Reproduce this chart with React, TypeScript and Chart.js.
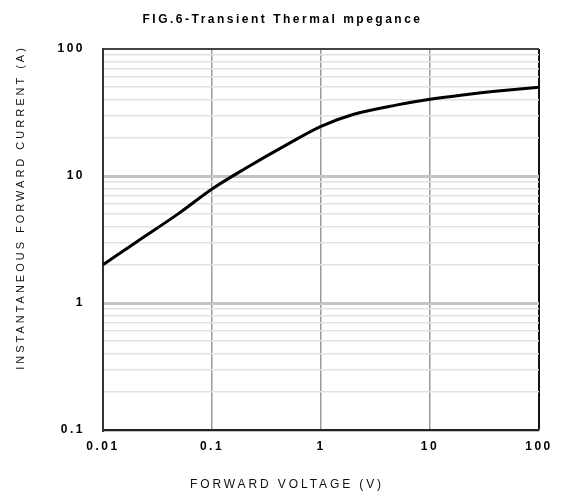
import React, { useEffect, useRef } from "react";
import { Chart, registerables } from "chart.js";

Chart.register(...registerables);

const chartTitle = "FIG.6-Transient Thermal mpegance";
const xTitle = "FORWARD VOLTAGE (V)";
const yTitle = "INSTANTANEOUS FORWARD CURRENT (A)";

const xTicks = [0.01, 0.1, 1, 10, 100];
const yTicks = [0.1, 1, 10, 100];
const minorMultipliers = [2, 3, 4, 5, 6, 7, 8, 9];

const voltage = [0.01, 0.02, 0.05, 0.1, 0.2, 0.5, 1, 2, 5, 10, 20, 50, 100];
const current = [2, 3.0, 5.1, 7.9, 11.4, 17.9, 24.6, 30.6, 36.3, 40.2, 43.5, 47.3, 50];

const FONT = "'Liberation Sans', Arial, Helvetica, sans-serif";

const spacingPlugin = {
  id: "letterSpacing",
  beforeUpdate(chart: any) {
    chart.ctx.letterSpacing = "2.5px";
  },
  beforeDraw(chart: any) {
    chart.ctx.letterSpacing = "2.5px";
  },
};

const titlesPlugin = {
  id: "titles",
  afterDraw(chart: any) {
    const ctx = chart.ctx;
    const area = chart.chartArea;
    ctx.save();
    ctx.fillStyle = "#000";
    ctx.textAlign = "center";
    ctx.textBaseline = "middle";

    // chart title
    ctx.font = `bold 12px ${FONT}`;
    ctx.letterSpacing = "2.5px";
    ctx.fillText(chartTitle, area.left + 179.5, 20);

    // x axis title
    ctx.fillStyle = "#111";
    ctx.font = `12px ${FONT}`;
    ctx.letterSpacing = "2.9px";
    ctx.fillText(xTitle, area.left + 184, area.bottom + 55);

    // y axis title
    ctx.font = `11px ${FONT}`;
    ctx.letterSpacing = "3px";
    ctx.translate(21, area.top + 160);
    ctx.rotate(-Math.PI / 2);
    ctx.fillText(yTitle, 1.5, 0);
    ctx.restore();
  },
};

export default function App() {
  const ref = useRef<HTMLCanvasElement | null>(null);

  useEffect(() => {
    if (!ref.current) return;
    const yAll: number[] = [];
    for (let i = 0; i < yTicks.length; i++) {
      yAll.push(yTicks[i]);
      if (i < yTicks.length - 1) {
        for (const m of minorMultipliers) yAll.push(yTicks[i] * m);
      }
    }
    const chart = new Chart(ref.current, {
      type: "line",
      data: {
        datasets: [
          {
            data: voltage.map((v, i) => ({ x: v, y: current[i] })),
            borderColor: "#000",
            borderWidth: 3,
            pointRadius: 0,
            cubicInterpolationMode: "monotone",
            fill: false,
          },
        ],
      },
      options: {
        animation: false,
        responsive: false,
        layout: { padding: { left: 0, right: 24, top: 49, bottom: 0 } },
        plugins: {
          legend: { display: false },
          tooltip: { enabled: false },
          title: { display: false },
        },
        scales: {
          x: {
            type: "logarithmic",
            min: 0.01,
            max: 100,
            afterBuildTicks(scale: any) {
              scale.ticks = xTicks.map((v) => ({ value: v }));
            },
            afterFit(scale: any) {
              scale.height = 63;
            },
            ticks: {
              autoSkip: false,
              maxRotation: 0,
              padding: 9,
              color: "#000",
              font: { family: FONT, size: 12, weight: "bold" },
              callback: (v: any) => (xTicks.includes(Number(v)) ? String(v) : ""),
            },
            grid: {
              drawTicks: false,
              color: (ctx: any) => (ctx.tick && ctx.tick.value === 100 ? "#111" : "#9a9a9a"),
              lineWidth: (ctx: any) => (ctx.tick && ctx.tick.value === 100 ? 2 : 1.5),
            },
            border: { display: true, color: "#222", width: 2 },
            title: { display: false, text: xTitle },
          },
          y: {
            type: "logarithmic",
            min: 0.1,
            max: 100,
            afterBuildTicks(scale: any) {
              scale.ticks = yAll.map((v) => ({ value: v }));
            },
            afterFit(scale: any) {
              scale.width = 103;
            },
            ticks: {
              autoSkip: false,
              padding: 18,
              color: "#000",
              font: { family: FONT, size: 12, weight: "bold" },
              callback: (v: any) => (yTicks.includes(Number(v)) ? String(v) : ""),
            },
            grid: {
              drawTicks: false,
              color: (ctx: any) => {
                const v = ctx.tick ? ctx.tick.value : 0;
                if (v === 100) return "#444";
                if (yTicks.includes(v)) return "#c4c4c4";
                return "#e2e2e2";
              },
              lineWidth: (ctx: any) => {
                const v = ctx.tick ? ctx.tick.value : 0;
                if (v === 100) return 2;
                if (yTicks.includes(v)) return 3;
                return 1.5;
              },
            },
            border: { display: true, color: "#333", width: 2 },
            title: { display: false, text: yTitle },
          },
        },
      },
      plugins: [spacingPlugin, titlesPlugin],
    } as any);
    return () => chart.destroy();
  }, []);

  return (
    <div style={{ position: "fixed", left: 0, top: 0, width: 563, height: 493, background: "#fff" }}>
      <canvas ref={ref} width={563} height={493} style={{ width: 563, height: 493, display: "block" }} />
    </div>
  );
}
